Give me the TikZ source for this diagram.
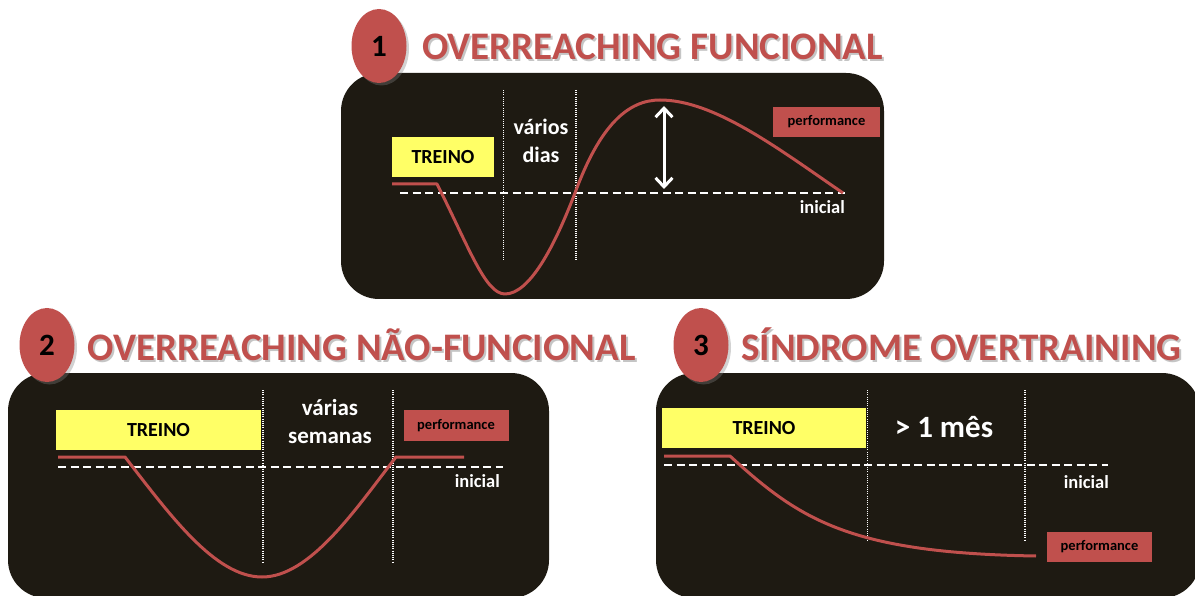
\documentclass[tikz,border=0pt]{standalone}
\usepackage{fontspec}
\setmainfont{Carlito}
\usetikzlibrary{arrows.meta,shapes.geometric,shadows}
\definecolor{ored}{HTML}{C0504D}
\definecolor{panelbg}{HTML}{1E1A12}
\definecolor{treinoY}{HTML}{FFFF66}
\begin{document}
\begin{tikzpicture}[x=1pt,y=-1pt,
  panel/.style={fill=panelbg, rounded corners=38pt},
  badge/.style={ellipse, fill=ored, minimum width=55pt, minimum height=74pt, inner sep=0pt,
    font=\bfseries\fontsize{31}{36}\selectfont, text=black,
    drop shadow={opacity=0.35, shadow xshift=2.5pt, shadow yshift=-2.5pt}},
  title/.style={anchor=base west, inner sep=0pt, text=ored, font=\bfseries\fontsize{39}{46}\selectfont},
  titleshadow/.style={anchor=base west, inner sep=0pt, text=black!45, opacity=0.5, font=\bfseries\fontsize{39}{46}\selectfont},
  treino/.style={fill=treinoY, inner sep=0pt, text=black, font=\bfseries\fontsize{20}{24}\selectfont},
  perfbox/.style={fill=ored, inner sep=0pt, text=black, font=\bfseries\fontsize{14.5}{17}\selectfont},
  wlabel/.style={inner sep=0pt, text=white, anchor=base, font=\bfseries\fontsize{22}{26}\selectfont},
  inicial/.style={inner sep=0pt, text=white, anchor=base east, font=\bfseries\fontsize{18.5}{22}\selectfont},
  perf/.style={draw=ored, line width=3pt, line join=round},
  baseline/.style={draw=white, line width=1.6pt, dash pattern=on 8pt off 4.5pt},
  divider/.style={draw=white, line width=1.3pt, dash pattern=on 0.9pt off 1.3pt},
  dblarrow/.style={draw=white, line width=3pt, {Straight Barb[length=9pt,width=17pt]}-{Straight Barb[length=9pt,width=17pt]}}
]
\useasboundingbox (0,0) rectangle (1195,596);
\fill[white] (0,0) rectangle (1195,596);

% ---------- Panel 1 ----------
\fill[panel] (341,73) rectangle (884,299);
\draw[divider] (503.5,90) -- (503.5,260);
\draw[divider] (576,90) -- (576,260);
\draw[baseline] (400,193) -- (845,193);
\node[treino, minimum width=102pt, minimum height=40pt] (tr1) at (443,157) {TREINO};
\node[perfbox, minimum width=107pt, minimum height=30pt] (pf1) at (826.5,122) {performance};
\node[wlabel] (v1a) at (541,135) {vários};
\node[wlabel] (v1b) at (541,163) {dias};
\node[inicial] (in1) at (845,214) {inicial};
\draw[perf] (392,184) -- (437,184) .. controls (468,245) and (485,294) .. (505,294)
  .. controls (530,294) and (555,245) .. (575,193)
  .. controls (600,125) and (628,100) .. (660,100)
  .. controls (715,100) and (780,150) .. (843,193);
\coordinate (a1) at (664,106);
\coordinate (a2) at (664,189);
\draw[dblarrow] (a1) -- (a2);
\node[titleshadow] (t1s) at (424,62) {OVERREACHING FUNCIONAL};
\node[title] (t1) at (422,60) {OVERREACHING FUNCIONAL};
\node[badge] (b1) at (379,46) {1};

% ---------- Panel 2 ----------
\fill[panel] (8,373) rectangle (549,598);
\draw[divider] (263,390) -- (263,562);
\draw[divider] (393,390) -- (393,562);
\draw[baseline] (58,467) -- (503,467);
\node[treino, minimum width=205pt, minimum height=40pt] (tr2) at (158.5,430) {TREINO};
\node[perfbox, minimum width=105pt, minimum height=31pt] (pf2) at (456,425.5) {performance};
\node[wlabel, font=\bfseries\fontsize{23}{27}\selectfont] (v2a) at (330,415) {várias};
\node[wlabel, font=\bfseries\fontsize{23}{27}\selectfont] (v2b) at (330,443) {semanas};
\node[inicial] (in2) at (500,487) {inicial};
\draw[perf] (58,457) -- (125,457) .. controls (170,515) and (215,577) .. (262,577)
  .. controls (310,577) and (355,510) .. (396,457) -- (464,457);
\node[titleshadow] (t2s) at (89.5,362) {OVERREACHING NÃO-FUNCIONAL};
\node[title] (t2) at (87.5,360) {OVERREACHING NÃO-FUNCIONAL};
\node[badge] (b2) at (47,345) {2};

% ---------- Panel 3 ----------
\fill[panel] (656,373) rectangle (1200,598);
\draw[divider] (867.5,390) -- (867.5,540);
\draw[divider] (1025,390) -- (1025,540);
\draw[baseline] (664,465) -- (1108,465);
\node[treino, minimum width=204.5pt, minimum height=40pt] (tr3) at (764,428) {TREINO};
\node[perfbox, minimum width=105pt, minimum height=30pt] (pf3) at (1099.5,547) {performance};
\node[wlabel, font=\bfseries\fontsize{31}{36}\selectfont] (m3) at (944,437) {> 1 mês};
\node[inicial] (in3) at (1109,488) {inicial};
\draw[perf] (664,456) -- (730,456) .. controls (800,520) and (850,553) .. (1036,556);
\node[titleshadow] (t3s) at (743,362) {SÍNDROME OVERTRAINING};
\node[title] (t3) at (741,360) {SÍNDROME OVERTRAINING};
\node[badge] (b3) at (701,345) {3};
\end{tikzpicture}
\end{document}
